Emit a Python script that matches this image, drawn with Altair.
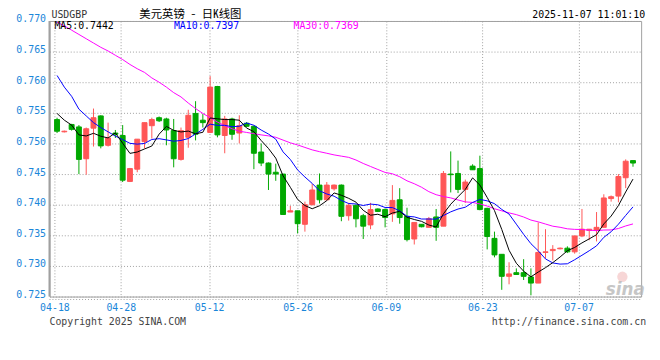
import altair as alt
import pandas as pd

# ---- data (USD/GBP daily K) ----
opens = [0.7539, 0.7519, 0.7531, 0.7527, 0.7475, 0.7525, 0.7545, 0.7497, 0.7517, 0.7513,
         0.7438, 0.7458, 0.7503, 0.7529, 0.7542, 0.7540, 0.7521, 0.7474, 0.7510, 0.7549,
         0.7538, 0.7518, 0.7593, 0.7513, 0.7540, 0.7517, 0.7533, 0.7528, 0.7486, 0.7468,
         0.7453, 0.7450, 0.7388, 0.7390, 0.7368, 0.7400, 0.7432, 0.7408, 0.7426, 0.7432,
         0.7382, 0.7399, 0.7382, 0.7367, 0.7393, 0.7392, 0.7385, 0.7408, 0.7381, 0.7344,
         0.7368, 0.7363, 0.7380, 0.7365, 0.7450, 0.7451, 0.7425, 0.7463, 0.7459, 0.7394,
         0.7345, 0.7319, 0.7283, 0.7289, 0.7289, 0.7282, 0.7272, 0.7322, 0.7325, 0.7328,
         0.7329, 0.7323, 0.7349, 0.7358, 0.7358, 0.7363, 0.7410, 0.7414, 0.7444, 0.7472]
highs = [0.7542, 0.7521, 0.7532, 0.7530, 0.7526, 0.7557, 0.7546, 0.7534, 0.7522, 0.7530,
         0.7460, 0.7507, 0.7534, 0.7542, 0.7544, 0.7542, 0.7540, 0.7526, 0.7555, 0.7569,
         0.7548, 0.7610, 0.7594, 0.7545, 0.7542, 0.7546, 0.7535, 0.7529, 0.7500, 0.7469,
         0.7467, 0.7450, 0.7398, 0.7390, 0.7405, 0.7434, 0.7451, 0.7437, 0.7433, 0.7433,
         0.7403, 0.7400, 0.7385, 0.7403, 0.7394, 0.7394, 0.7432, 0.7427, 0.7395, 0.7371,
         0.7368, 0.7380, 0.7393, 0.7455, 0.7487, 0.7472, 0.7441, 0.7466, 0.7480, 0.7395,
         0.7356, 0.7319, 0.7306, 0.7296, 0.7311, 0.7296, 0.7371, 0.7360, 0.7334, 0.7330,
         0.7332, 0.7349, 0.7393, 0.7360, 0.7388, 0.7417, 0.7415, 0.7450, 0.7474, 0.7472]
lows = [0.7517, 0.7518, 0.7521, 0.7450, 0.7449, 0.7495, 0.7492, 0.7495, 0.7509, 0.7437,
        0.7437, 0.7453, 0.7492, 0.7508, 0.7535, 0.7497, 0.7461, 0.7472, 0.7493, 0.7505,
        0.7526, 0.7517, 0.7510, 0.7484, 0.7506, 0.7500, 0.7527, 0.7458, 0.7463, 0.7424,
        0.7439, 0.7384, 0.7388, 0.7353, 0.7356, 0.7399, 0.7402, 0.7407, 0.7423, 0.7373,
        0.7374, 0.7363, 0.7344, 0.7360, 0.7388, 0.7363, 0.7372, 0.7369, 0.7340, 0.7335,
        0.7363, 0.7363, 0.7341, 0.7365, 0.7420, 0.7419, 0.7403, 0.7457, 0.7391, 0.7327,
        0.7314, 0.7261, 0.7270, 0.7286, 0.7277, 0.7252, 0.7272, 0.7312, 0.7309, 0.7327,
        0.7321, 0.7320, 0.7347, 0.7342, 0.7340, 0.7363, 0.7405, 0.7404, 0.7427, 0.7462]
closes = [0.7520, 0.7520, 0.7523, 0.7474, 0.7524, 0.7542, 0.7496, 0.7509, 0.7515, 0.7440,
          0.7459, 0.7507, 0.7534, 0.7539, 0.7537, 0.7522, 0.7475, 0.7521, 0.7546, 0.7515,
          0.7534, 0.7592, 0.7514, 0.7540, 0.7515, 0.7529, 0.7528, 0.7484, 0.7468, 0.7450,
          0.7450, 0.7384, 0.7390, 0.7369, 0.7400, 0.7424, 0.7408, 0.7432, 0.7432, 0.7381,
          0.7399, 0.7377, 0.7365, 0.7392, 0.7389, 0.7379, 0.7407, 0.7379, 0.7343, 0.7371,
          0.7364, 0.7377, 0.7363, 0.7451, 0.7449, 0.7425, 0.7437, 0.7457, 0.7392, 0.7348,
          0.7318, 0.7283, 0.7287, 0.7286, 0.7283, 0.7272, 0.7322, 0.7323, 0.7327, 0.7329,
          0.7323, 0.7349, 0.7360, 0.7360, 0.7363, 0.7411, 0.7413, 0.7446, 0.7471, 0.7468]
ma5 = [0.7549, 0.7538, 0.7530, 0.7514, 0.75122, 0.75166, 0.75118, 0.7509, 0.75172, 0.75004,
       0.74838, 0.7486, 0.7491, 0.74958, 0.75152, 0.75278, 0.75214, 0.75188, 0.75202, 0.75158,
       0.75182, 0.75416, 0.75402, 0.7539, 0.7539, 0.7538, 0.75252, 0.75192, 0.75048, 0.74918,
       0.7476, 0.74472, 0.74284, 0.74086, 0.73986, 0.73934, 0.73982, 0.74066, 0.74192, 0.74154,
       0.74104, 0.74042, 0.73908, 0.73828, 0.73844, 0.73804, 0.73864, 0.73892, 0.73794, 0.73758,
       0.73728, 0.73668, 0.73636, 0.73852, 0.74008, 0.7413, 0.7425, 0.74438, 0.7432, 0.74118,
       0.73904, 0.73596, 0.73256, 0.73044, 0.72914, 0.72822, 0.729, 0.72972, 0.73054, 0.73146,
       0.73248, 0.73302, 0.73376, 0.73442, 0.7351, 0.73686, 0.73814, 0.73986, 0.74208, 0.74418]
ma10 = [0.7611, 0.7592, 0.7577, 0.7556, 0.7545, 0.7534, 0.7526, 0.7519, 0.7512, 0.75063,
        0.75002, 0.74989, 0.75, 0.75065, 0.75078, 0.75058, 0.75037, 0.75049, 0.7508, 0.75155,
        0.7523, 0.75315, 0.75295, 0.75296, 0.75274, 0.75281, 0.75334, 0.75297, 0.75219, 0.75154,
        0.7507, 0.74862, 0.74738, 0.74567, 0.74452, 0.74347, 0.74227, 0.74175, 0.74139, 0.7407,
        0.74019, 0.74012, 0.73987, 0.7401, 0.73999, 0.73954, 0.73953, 0.739, 0.73811, 0.73801,
        0.73766, 0.73766, 0.73764, 0.73823, 0.73883, 0.73929, 0.73959, 0.74037, 0.74086, 0.74063,
        0.74017, 0.73923, 0.73847, 0.73682, 0.73516, 0.73363, 0.73248, 0.73114, 0.73049, 0.7303,
        0.73035, 0.73101, 0.73174, 0.73248, 0.73328, 0.73467, 0.73558, 0.73681, 0.73825, 0.73964]
ma30 = [0.7698, 0.7692, 0.7685, 0.7678, 0.7671, 0.7664, 0.7657, 0.7651, 0.7644, 0.7637,
        0.7629, 0.7622, 0.7616, 0.7607, 0.7600, 0.7592, 0.7583, 0.7576, 0.7566, 0.7557,
        0.7549, 0.7542, 0.7535, 0.7529, 0.7524, 0.7520, 0.7518, 0.7516, 0.7514, 0.75124,
        0.75101, 0.75055, 0.7501, 0.74976, 0.74935, 0.74895, 0.74866, 0.7484, 0.74813, 0.74793,
        0.74773, 0.7473, 0.74673, 0.74624, 0.74575, 0.74527, 0.74505, 0.74457, 0.7439, 0.74342,
        0.74285, 0.74213, 0.74163, 0.74133, 0.74111, 0.74077, 0.74046, 0.74037, 0.74012, 0.73978,
        0.73934, 0.739, 0.73866, 0.73838, 0.73799, 0.73749, 0.7372, 0.73684, 0.73649, 0.73631,
        0.73606, 0.73597, 0.73595, 0.73584, 0.73576, 0.73586, 0.73588, 0.73611, 0.73653, 0.73686]

tick_pos = [-0.36, 8.74, 20.86, 32.99, 45.11, 58.35, 71.54]
tick_labels = ["04-18", "04-28", "05-12", "05-26", "06-09", "06-23", "07-07"]
y_ticks = [0.725, 0.730, 0.735, 0.740, 0.745, 0.750, 0.755, 0.760, 0.765, 0.770]

symbol = "USDGBP"
title_text = "美元英镑 - 日K线图"
stamp = "2025-11-07 11:01:10"
ma_labels = ["MA5:0.7442", "MA10:0.7397", "MA30:0.7369"]
copyright_text = "Copyright 2025 SINA.COM"
url_text = "http://finance.sina.com.cn"

# ---- styling ----
RED = "#ff5656"
GREEN = "#00a800"
BLUE_LBL = "#1a86d9"
GRID = "#a0a0a0"
MONO = "DejaVu Sans Mono"
CJK = "Noto Sans Mono CJK SC, Noto Sans CJK SC"
W, H = 599, 279

df = pd.DataFrame({
    "i": list(range(len(closes))),
    "open": opens, "high": highs, "low": lows, "close": closes,
    "ma5": ma5, "ma10": ma10, "ma30": ma30,
})

expr = "'" + tick_labels[-1] + "'"
for p, lab in reversed(list(zip(tick_pos[:-1], tick_labels[:-1]))):
    expr = f"datum.value < {p + 0.5} ? '{lab}' : " + expr

xscale = alt.Scale(domain=[-0.36, 79.44], nice=False, zero=False)
yscale = alt.Scale(domain=[0.725, 0.770], nice=False, zero=False)
xaxis = alt.Axis(values=tick_pos, labelExpr=expr, grid=True, gridDash=[1, 2], gridColor=GRID,
                 gridOpacity=1, ticks=False, domain=False, labelColor=BLUE_LBL, labelFont=MONO,
                 labelFontSize=10, labelPadding=6, labelOverlap=False, labelFlush=False,
                 labelBound=False, title=None)
yaxis = alt.Axis(values=y_ticks, format=".3f", grid=True, gridDash=[1, 2], gridColor=GRID,
                 gridOpacity=1, ticks=False, domain=False, labelColor=BLUE_LBL, labelFont=MONO,
                 labelFontSize=10, labelPadding=4, labelOffset=-2, labelOverlap=False,
                 labelFlush=False, labelBound=False, title=None)

X = alt.X("i:Q", scale=xscale, axis=xaxis)
color = alt.condition("datum.close >= datum.open", alt.value(RED), alt.value(GREEN))

base = alt.Chart(df)
wicks = base.mark_rule(strokeWidth=1, clip=True).encode(
    x=X, y=alt.Y("low:Q", scale=yscale, axis=yaxis), y2="high:Q", color=color)
bodies = base.mark_bar(size=5, strokeWidth=1, clip=True).encode(
    x=X, y=alt.Y("open:Q", scale=yscale, axis=yaxis), y2="close:Q", color=color, stroke=color)

def ma_line(field, col):
    return base.mark_line(strokeWidth=1, clip=True, color=col).encode(
        x=X, y=alt.Y(f"{field}:Q", scale=yscale, axis=yaxis))

one = pd.DataFrame({"k": [0]})

def label(txt, x, y, col, size=10, font=MONO, align="left", weight="normal", style="normal", opacity=1):
    return alt.Chart(one).mark_text(align=align, baseline="middle", font=font, fontSize=size,
                                    color=col, fontWeight=weight, fontStyle=style,
                                    opacity=opacity).encode(
        x=alt.value(x), y=alt.value(y), text=alt.value(txt))

left_border = alt.Chart(one).mark_rule(color=GRID, strokeWidth=2).encode(
    x=alt.value(0), y=alt.value(0), y2=alt.value(H))
bottom_dots = alt.Chart(one).mark_rule(color=GRID, strokeWidth=1, strokeDash=[1, 2]).encode(
    x=alt.value(0), x2=alt.value(W), y=alt.value(H + 3))
logo_dot = alt.Chart(one).mark_point(filled=True, shape="circle", size=110, color="#f0b4b4",
                                     opacity=0.55).encode(x=alt.value(580), y=alt.value(259))

chart = alt.layer(
    wicks, bodies,
    ma_line("ma30", "#ff00ff"), ma_line("ma10", "#0000ff"), ma_line("ma5", "#000000"),
    left_border, bottom_dots, logo_dot,
    label("sina", 583, 272, "#b8b8b8", size=17, font="DejaVu Sans", align="center",
          weight="bold", style="italic", opacity=0.8),
    label(ma_labels[0], 5, 5, "#000000"),
    label(ma_labels[1], 126, 5, "#0000ff"),
    label(ma_labels[2], 247, 5, "#ff00ff"),
    label(symbol, 2, -6, "#333333"),
    label(title_text, 91, -6, "#000000", size=11.5, font=CJK),
    label(stamp, 603, -6, "#000000", align="right"),
    label(copyright_text, 0, 305, "#444444"),
    label(url_text, 604, 305, "#444444", align="right"),
).properties(
    width=W, height=H,
    autosize=alt.AutoSizeParams(type="none"),
    padding={"left": 42, "top": 11, "right": 11, "bottom": 54},
    background="white",
).configure_view(stroke=GRID, strokeWidth=1)

chart.save("out.html", embed_options={"renderer": "svg", "actions": False})
